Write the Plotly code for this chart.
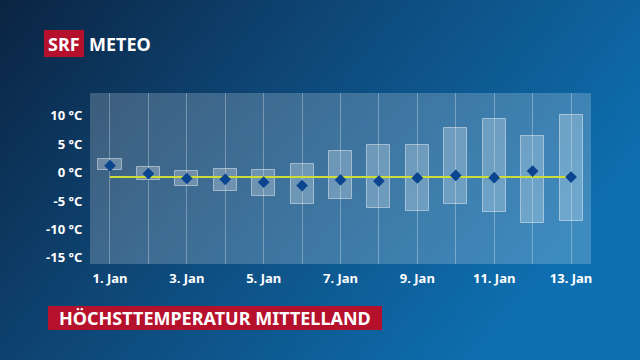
import plotly.graph_objects as go
import urllib.parse

days = [1, 2, 3, 4, 5, 6, 7, 8, 9, 10, 11, 12, 13]
day_labels = ["1. Jan", "", "3. Jan", "", "5. Jan", "", "7. Jan", "", "9. Jan", "", "11. Jan", "", "13. Jan"]
high_upper = [2.3, 0.9, 0.35, 0.7, 0.5, 1.5, 3.8, 4.8, 4.9, 7.8, 9.5, 6.5, 10.1]
high_lower = [0.4, -1.3, -2.3, -3.2, -4.2, -5.55, -4.7, -6.25, -6.8, -5.6, -7.0, -8.8, -8.6]
high_median = [1.2, -0.2, -1.05, -1.2, -1.7, -2.3, -1.3, -1.5, -0.95, -0.5, -0.9, 0.25, -0.8]
norm_line = [-0.8, -0.8, -0.8, -0.8, -0.8, -0.8, -0.8, -0.8, -0.8, -0.8, -0.8, -0.8, -0.8]
y_ticks = [-15, -10, -5, 0, 5, 10]
y_tick_labels = ["-15 °C", "-10 °C", "-5 °C", "0 °C", "5 °C", "10 °C"]

W, H = 640, 360
L, R, T, B = 90, 591, 93, 264
pw, ph = R - L, B - T

def px(x):
    return (x - L) / pw

def py(y):
    return (B - y) / ph

svg = ('<svg xmlns="http://www.w3.org/2000/svg" width="640" height="360" preserveAspectRatio="none">'
       '<defs><linearGradient id="g" x1="0" y1="0" x2="1" y2="0.45">'
       '<stop offset="0" stop-color="#0b2442"/>'
       '<stop offset="0.45" stop-color="#0e4777"/>'
       '<stop offset="1" stop-color="#0e6fb0"/>'
       '</linearGradient></defs><rect width="640" height="360" fill="url(#g)"/></svg>')
bg_src = "data:image/svg+xml;charset=utf-8," + urllib.parse.quote(svg)

FONT = "Noto Sans"

fig = go.Figure()
fig.add_trace(go.Bar(
    x=days, y=[h - l for h, l in zip(high_upper, high_lower)], base=high_lower,
    width=0.6, marker=dict(color="rgba(255,255,255,0.25)",
                           line=dict(color="rgba(255,255,255,0.45)", width=1)),
    hoverinfo="skip", showlegend=False))
fig.add_trace(go.Scatter(
    x=days, y=norm_line, mode="lines",
    line=dict(color="#cddc39", width=2), showlegend=False))
fig.add_trace(go.Scatter(
    x=days, y=high_median, mode="markers",
    marker=dict(symbol="diamond", size=9, color="#0b4590"), showlegend=False))

shapes = [
    dict(type="rect", xref="paper", yref="paper", x0=0, x1=1, y0=0, y1=1,
         fillcolor="rgba(255,255,255,0.2)", line=dict(width=0), layer="below"),
    dict(type="rect", xref="paper", yref="paper", x0=px(44), x1=px(84), y0=py(57), y1=py(30),
         fillcolor="#b5102c", line=dict(width=0)),
    dict(type="rect", xref="paper", yref="paper", x0=px(48), x1=px(382), y0=py(330), y1=py(306),
         fillcolor="#b5102c", line=dict(width=0)),
]

annotations = [
    dict(text="<b>SRF</b>", xref="paper", yref="paper", x=px(64), y=py(43.5),
         xanchor="center", yanchor="middle", showarrow=False,
         font=dict(family=FONT, size=18, color="white")),
    dict(text="<b>METEO</b>", xref="paper", yref="paper", x=px(87), y=py(43.5),
         xanchor="left", yanchor="middle", showarrow=False,
         font=dict(family=FONT, size=18, color="white")),
    dict(text="<b>HÖCHSTTEMPERATUR MITTELLAND</b>", xref="paper", yref="paper",
         x=px(215), y=py(318), xanchor="center", yanchor="middle", showarrow=False,
         font=dict(family=FONT, size=18, color="white")),
]

fig.update_layout(
    width=W, height=H,
    margin=dict(l=L, r=W - R, t=T, b=H - B, pad=0),
    paper_bgcolor="#0b2442", plot_bgcolor="rgba(0,0,0,0)",
    images=[dict(source=bg_src, xref="paper", yref="paper", x=px(0), y=py(0),
                 sizex=W / pw, sizey=H / ph, xanchor="left", yanchor="top",
                 sizing="stretch", layer="below")],
    shapes=shapes, annotations=annotations,
    bargap=0, showlegend=False,
    font=dict(family=FONT, color="white"),
)
fig.update_xaxes(range=[0.48, 13.52], tickvals=days, ticktext=day_labels,
                 showgrid=True, gridcolor="rgba(255,255,255,0.3)", gridwidth=1,
                 zeroline=False, showline=False, ticks="outside", ticklen=2,
                 tickcolor="rgba(0,0,0,0)",
                 tickfont=dict(family=FONT, size=13, color="white", weight="bold"))
fig.update_yaxes(range=[-16.1, 14], tickvals=y_ticks, ticktext=y_tick_labels,
                 showgrid=False, zeroline=False, showline=False, ticks="outside",
                 ticklen=4, tickcolor="rgba(0,0,0,0)",
                 tickfont=dict(family=FONT, size=13, color="white", weight="bold"))

fig.write_html("out.html", config={"displayModeBar": False},
               post_script="document.body.style.margin='0';document.body.style.overflow='hidden';")
